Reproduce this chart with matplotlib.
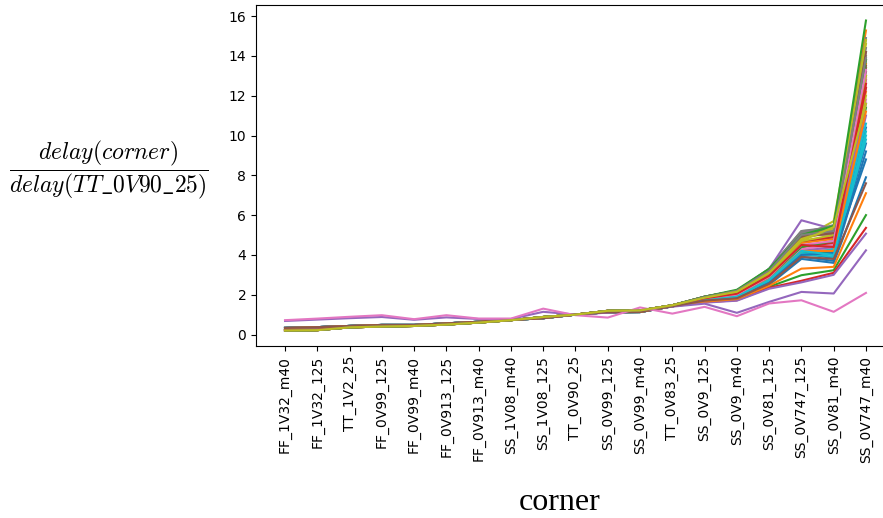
import matplotlib
matplotlib.use("Agg")
import matplotlib.pyplot as plt

plt.rcParams["mathtext.fontset"] = "cm"

corners = ["FF_1V32_m40", "FF_1V32_125", "TT_1V2_25", "FF_0V99_125", "FF_0V99_m40",
           "FF_0V913_125", "FF_0V913_m40", "SS_1V08_m40", "SS_1V08_125", "TT_0V90_25",
           "SS_0V99_125", "SS_0V99_m40", "TT_0V83_25", "SS_0V9_125", "SS_0V9_m40",
           "SS_0V81_125", "SS_0V747_125", "SS_0V81_m40", "SS_0V747_m40"]

# normalised delay of the fast corners (FF_1V32_m40 .. TT_0V83_25), four path families
fast_a = [0.33, 0.37, 0.43, 0.48, 0.48, 0.56, 0.64, 0.73, 0.82, 1.0, 1.12, 1.13, 1.42]
fast_b = [0.22, 0.24, 0.38, 0.42, 0.44, 0.52, 0.62, 0.73, 0.86, 1.0, 1.17, 1.19, 1.45]
fast_c = [0.20, 0.22, 0.36, 0.40, 0.43, 0.50, 0.60, 0.72, 0.88, 1.0, 1.19, 1.21, 1.47]
fast_d = [0.25, 0.28, 0.40, 0.45, 0.46, 0.54, 0.63, 0.74, 0.84, 1.0, 1.14, 1.16, 1.44]

# slow corners (SS_0V9_125 .. SS_0V747_m40) for each path, paired with its fast family
slow_paths = [
    ("a", [1.75, 1.90, 2.70, 4.10, 4.20, 10.4]),
    ("b", [1.80, 2.00, 2.90, 4.40, 4.60, 12.2]),
    ("c", [1.85, 2.10, 3.00, 4.60, 4.90, 13.4]),
    ("b", [1.90, 2.20, 3.25, 4.90, 5.10, 13.0]),
    ("d", [1.75, 1.95, 2.80, 4.30, 4.00, 11.0]),
    ("c", [1.85, 2.15, 3.20, 5.10, 5.30, 13.8]),
    ("b", [1.80, 2.05, 2.90, 4.50, 4.40, 12.6]),
    ("c", [1.90, 2.20, 3.30, 5.20, 5.40, 14.2]),
    ("c", [1.85, 2.15, 3.15, 4.80, 5.70, 14.6]),
    ("a", [1.70, 1.85, 2.60, 4.00, 3.90, 10.2]),
    ("a", [1.72, 1.88, 2.70, 4.20, 3.80, 9.6]),
    ("b", [1.80, 2.05, 2.95, 4.60, 4.80, 13.6]),
    ("b", [1.78, 2.00, 2.85, 4.10, 4.10, 11.4]),
    ("c", [1.85, 2.10, 3.10, 4.70, 4.90, 12.8]),
    ("b", [1.85, 2.10, 3.30, 5.74, 5.30, 12.4]),
    ("c", [1.90, 2.20, 3.20, 5.00, 5.20, 13.2]),
    ("d", [1.75, 1.95, 2.80, 4.30, 4.30, 11.8]),
    ("c", [1.88, 2.18, 3.25, 5.05, 5.00, 14.0]),
    ("c", [1.82, 2.10, 3.05, 4.50, 4.50, 12.0]),
    ("a", [1.70, 1.85, 2.65, 4.00, 4.30, 10.6]),
    ("a", [1.68, 1.82, 2.55, 3.90, 3.70, 9.2]),
    ("c", [1.90, 2.20, 3.20, 4.90, 5.30, 15.28]),
    ("a", [1.65, 1.75, 2.40, 2.98, 3.23, 6.0]),
    ("b", [1.80, 2.05, 2.90, 4.40, 4.60, 12.4]),
    ("b", [1.80, 2.00, 2.85, 4.20, 4.40, 11.6]),
    ("c", [1.85, 2.15, 3.10, 4.90, 5.20, 13.5]),
    ("b", [1.80, 2.00, 2.85, 4.30, 4.50, 12.9]),
    ("c", [1.90, 2.20, 3.25, 5.10, 5.50, 14.4]),
    ("c", [1.85, 2.12, 3.10, 4.70, 5.00, 13.0]),
    ("a", [1.70, 1.90, 2.70, 4.10, 3.90, 9.8]),
    ("a", [1.70, 1.85, 2.60, 4.00, 4.10, 8.8]),
    ("b", [1.78, 1.98, 2.80, 4.20, 4.20, 11.2]),
    ("b", [1.80, 2.02, 2.90, 4.40, 4.70, 13.8]),
    ("a", [1.62, 1.72, 2.35, 2.70, 3.10, 5.36]),
    ("a", [1.60, 1.70, 2.30, 2.62, 3.00, 5.07]),
    ("c", [1.88, 2.18, 3.20, 4.90, 5.10, 14.2]),
    ("b", [1.80, 2.00, 2.90, 4.50, 4.70, 13.3]),
    ("c", [1.90, 2.20, 3.30, 5.20, 5.30, 14.9]),
    ("c", [1.85, 2.15, 3.15, 4.80, 5.30, 14.8]),
    ("a", [1.72, 1.90, 2.75, 4.20, 4.00, 10.0]),
    ("a", [1.68, 1.80, 2.50, 3.80, 3.60, 7.9]),
    ("a", [1.65, 1.78, 2.45, 3.31, 3.40, 7.1]),
    ("c", [1.90, 2.25, 3.30, 5.00, 5.45, 15.78]),
    ("b", [1.82, 2.05, 2.95, 4.50, 4.40, 12.6]),
]

# two paths that stay close to the typical corner at low voltage
slow_outlier = [0.68, 0.75, 0.82, 0.88, 0.74, 0.86, 0.78, 0.78, 1.14, 1.0,
                1.10, 1.20, 1.40, 1.55, 1.09, 1.64, 2.14, 2.06, 4.23]
late_paths = [
    ("a", [1.70, 1.82, 2.55, 3.90, 3.80, 7.6]),
]
flat_outlier = [0.72, 0.80, 0.89, 0.97, 0.77, 0.97, 0.80, 0.80, 1.30, 0.97,
                0.85, 1.36, 1.05, 1.39, 0.92, 1.56, 1.72, 1.14, 2.09]
final_paths = [
    ("c", [1.88, 2.20, 3.20, 5.00, 5.20, 13.9]),
    ("c", [1.85, 2.15, 3.10, 4.70, 5.40, 11.6]),
]

fast = {"a": fast_a, "b": fast_b, "c": fast_c, "d": fast_d}
series = [fast[k] + tail for k, tail in slow_paths]
series.append(slow_outlier)
series += [fast[k] + tail for k, tail in late_paths]
series.append(flat_outlier)
series += [fast[k] + tail for k, tail in final_paths]

fig = plt.figure(figsize=(8.83, 5.18), dpi=100)
ax = fig.add_axes([0.2899, 0.332, 0.7237, 0.6583])

x = list(range(len(corners)))
for s in series:
    ax.plot(x, s, linewidth=1.5)

ax.set_xticks(x)
ax.set_xticklabels(corners, rotation=90, fontsize=10)
ax.set_xlim(-0.9, len(corners) - 0.1)
ax.set_yticks([0, 2, 4, 6, 8, 10, 12, 14, 16])
ax.tick_params(labelsize=10)

fig.text(0.123, 0.672, r"$\dfrac{delay(corner)}{delay(TT\_0V90\_25)}$",
         fontsize=17, ha="center", va="center")
fig.text(0.634, 0.03, "corner", family="Liberation Serif", fontsize=23,
         ha="center", va="center")

fig.savefig("out.png", dpi=100)
